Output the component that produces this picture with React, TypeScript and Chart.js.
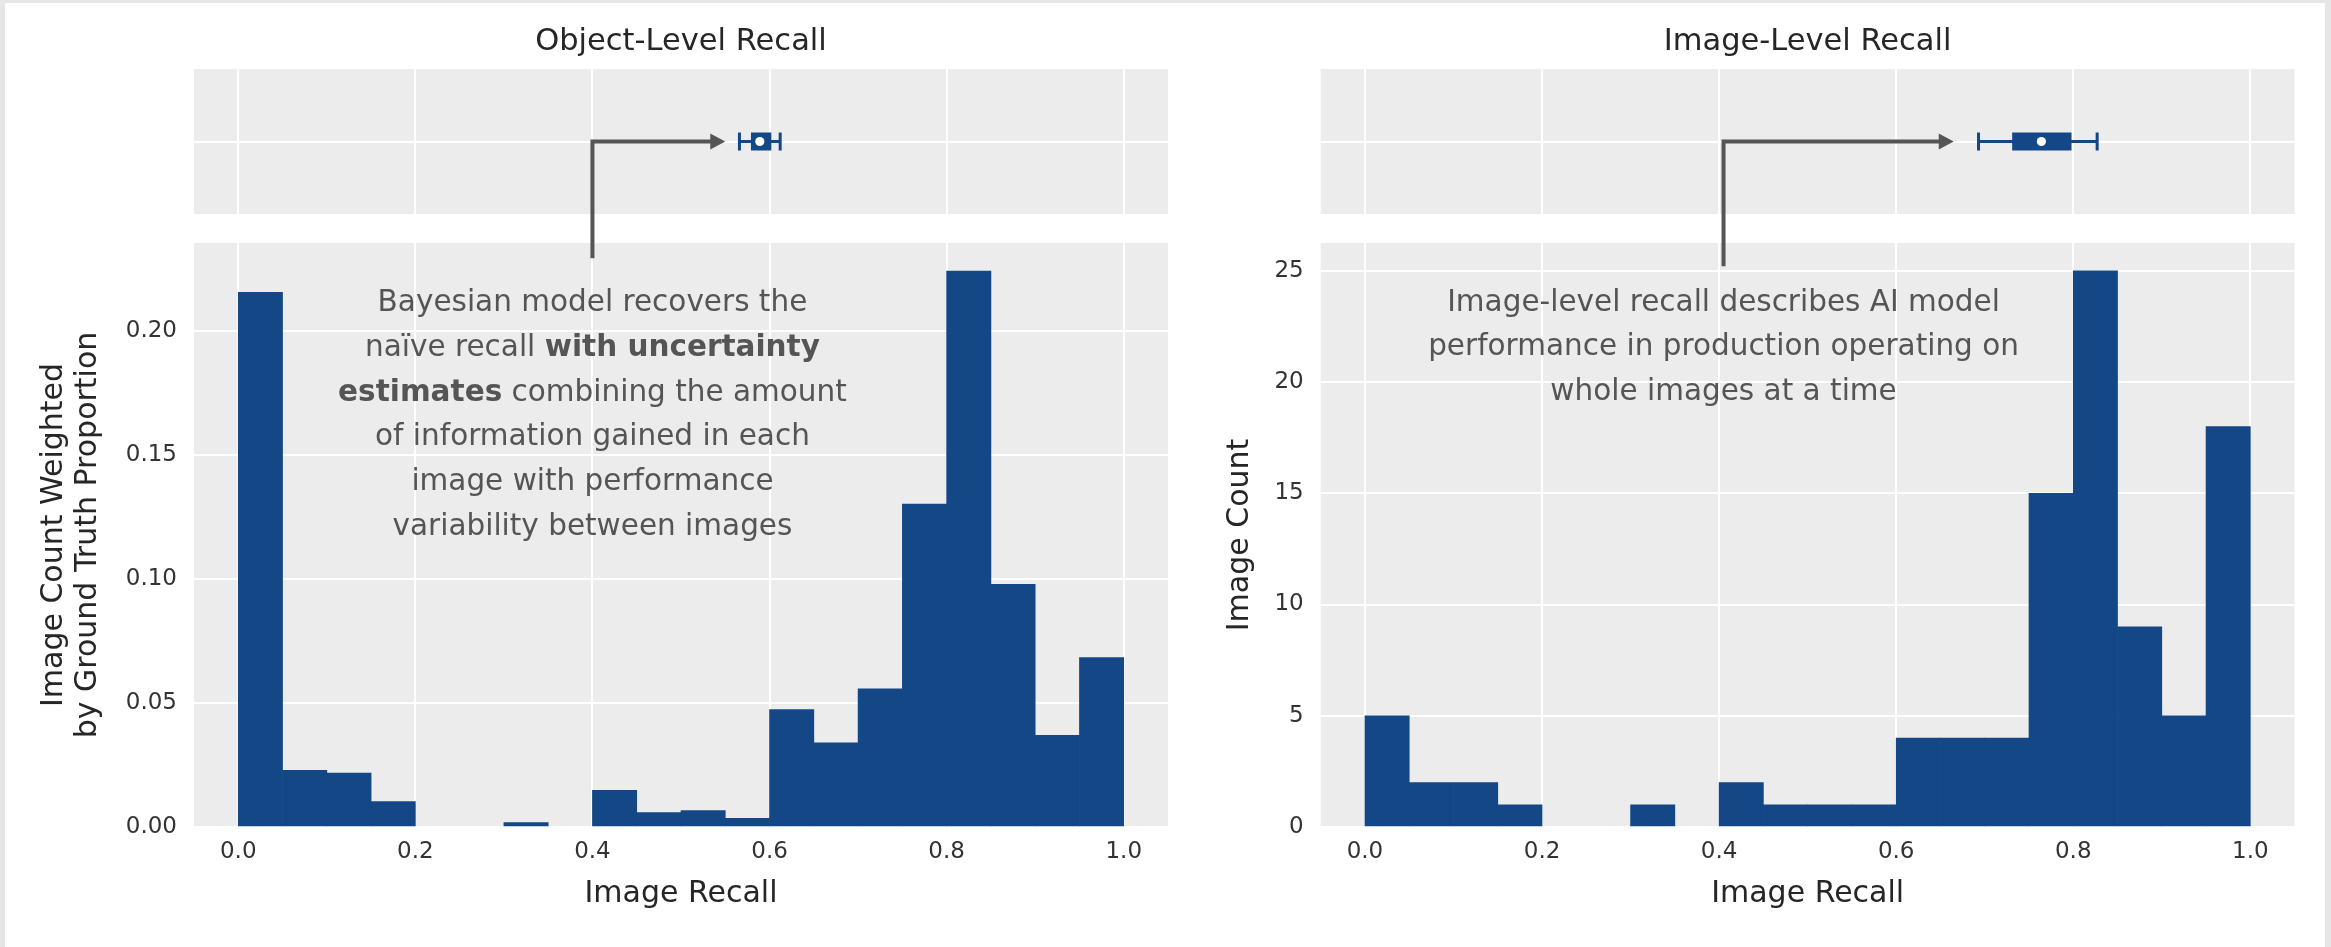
import React, { useEffect, useRef } from "react";
import { Chart, registerables } from "chart.js";

Chart.register(...registerables);

// ---------------- data ----------------
const BIN_EDGES = [0, 0.05, 0.1, 0.15, 0.2, 0.25, 0.3, 0.35, 0.4, 0.45, 0.5, 0.55, 0.6, 0.65, 0.7, 0.75, 0.8, 0.85, 0.9, 0.95, 1.0];

const OBJECT_WEIGHTED_COUNTS = [
  0.2156, 0.0229, 0.0217, 0.0103, 0, 0, 0.0018, 0, 0.0148, 0.0058,
  0.0066, 0.0035, 0.0474, 0.0339, 0.0557, 0.1302, 0.2242, 0.0979, 0.037, 0.0683,
];
const IMAGE_COUNTS = [5, 2, 2, 1, 0, 0, 1, 0, 2, 1, 1, 1, 4, 4, 4, 15, 25, 9, 5, 18];

// box summaries: [whisker low, q1, median, q3, whisker high]
const OBJECT_BOX = [0.566, 0.579, 0.589, 0.602, 0.612];
const IMAGE_BOX = [0.693, 0.731, 0.764, 0.798, 0.827];

const X_TICKS = [0, 0.2, 0.4, 0.6, 0.8, 1.0];
const X_TICK_LABELS = ["0.0", "0.2", "0.4", "0.6", "0.8", "1.0"];
const Y_TICKS_OBJECT = [0, 0.05, 0.1, 0.15, 0.2];
const Y_TICK_LABELS_OBJECT = ["0.00", "0.05", "0.10", "0.15", "0.20"];
const Y_TICKS_IMAGE = [0, 5, 10, 15, 20, 25];
const Y_TICK_LABELS_IMAGE = ["0", "5", "10", "15", "20", "25"];

const OBJECT_TEXT = [
  [["Bayesian model recovers the", false]],
  [["naïve recall ", false], ["with uncertainty", true]],
  [["estimates", true], [" combining the amount", false]],
  [["of information gained in each", false]],
  [["image with performance", false]],
  [["variability between images", false]],
];
const IMAGE_TEXT = [
  [["Image-level recall describes AI model", false]],
  [["performance in production operating on", false]],
  [["whole images at a time", false]],
];

// ---------------- styles ----------------
const BAR_COLOR = "#144786";
const PANEL_BG = "#ececec";
const GRID_COLOR = "#ffffff";
const TICK_COLOR = "#333333";
const LABEL_COLOR = "#262626";
const ANNOT_COLOR = "#555555";
const FONT_FAMILY = "'DejaVu Sans'";

Chart.defaults.font.family = FONT_FAMILY;

const binCenters = BIN_EDGES.slice(0, -1).map((e, i) => (e + BIN_EDGES[i + 1]) / 2);

function makeAnnotationPlugin(a: any) {
  return {
    id: "annot",
    beforeDraw(chart: any) {
      const { ctx, chartArea: ca, scales } = chart;
      ctx.save();
      ctx.fillStyle = PANEL_BG;
      for (const id of ["yBox", "y"]) {
        const s = scales[id];
        ctx.fillRect(ca.left, s.top, ca.right - ca.left, s.bottom - s.top);
      }
      ctx.restore();
    },
    beforeDatasetsDraw(chart: any) {
      const { ctx, chartArea: ca, scales } = chart;
      const g = scales.yGap;
      ctx.save();
      ctx.fillStyle = "#ffffff";
      ctx.fillRect(ca.left - 2, g.top, ca.right - ca.left + 4, g.bottom - g.top);
      ctx.restore();
    },
    afterDatasetsDraw(chart: any) {
      const { ctx, scales } = chart;
      const x = scales.x, y = scales.y, yb = scales.yBox;
      const px = x.getPixelForValue(a.x);
      const pyTop = yb.getPixelForValue(0);
      const pyBottom = y.getPixelForValue(a.lineBottom);
      const tip = x.getPixelForValue(a.tip);
      const headLen = 15, headHalf = 8;
      ctx.save();
      ctx.strokeStyle = ANNOT_COLOR;
      ctx.fillStyle = ANNOT_COLOR;
      ctx.lineWidth = 4;
      ctx.lineJoin = "miter";
      ctx.lineCap = "butt";
      ctx.beginPath();
      ctx.moveTo(px, pyBottom);
      ctx.lineTo(px, pyTop);
      ctx.lineTo(tip - headLen + 1, pyTop);
      ctx.stroke();
      ctx.beginPath();
      ctx.moveTo(tip, pyTop);
      ctx.lineTo(tip - headLen, pyTop - headHalf);
      ctx.lineTo(tip - headLen, pyTop + headHalf);
      ctx.closePath();
      ctx.fill();

      const normal = `normal 29.5px ${FONT_FAMILY}`;
      const bold = `bold 29.5px ${FONT_FAMILY}`;
      const y0 = y.getPixelForValue(a.textY);
      ctx.textBaseline = "middle";
      ctx.textAlign = "left";
      a.lines.forEach((runs: any[], i: number) => {
        const widths = runs.map((r) => {
          ctx.font = r[1] ? bold : normal;
          return ctx.measureText(r[0]).width;
        });
        const total = widths.reduce((s: number, w: number) => s + w, 0);
        let cx = px - total / 2;
        const cy = y0 + i * 44.8;
        runs.forEach((r, j) => {
          ctx.font = r[1] ? bold : normal;
          ctx.fillText(r[0], cx, cy);
          cx += widths[j];
        });
      });
      ctx.restore();
    },
  };
}

function makeConfig(p: any) {
  const fixW = (s: any) => {
    s.width = p.axisWidth;
  };
  return {
    type: "bar",
    data: {
      datasets: [
        {
          type: "line",
          label: "median",
          data: [{ x: p.box[2], y: 0 }],
          xAxisID: "x",
          yAxisID: "yBox",
          showLine: false,
          pointRadius: 4.6,
          pointBackgroundColor: "#ffffff",
          pointBorderWidth: 0,
          order: 0,
        },
        {
          type: "line",
          label: "iqr",
          data: [{ x: p.box[1], y: 0 }, { x: p.box[3], y: 0 }],
          xAxisID: "x",
          yAxisID: "yBox",
          borderColor: BAR_COLOR,
          borderWidth: 18,
          borderCapStyle: "butt",
          pointRadius: 0,
          order: 1,
        },
        {
          type: "line",
          label: "whiskers",
          data: [{ x: p.box[0], y: 0 }, { x: p.box[4], y: 0 }],
          xAxisID: "x",
          yAxisID: "yBox",
          borderColor: BAR_COLOR,
          borderWidth: 3,
          pointStyle: "line",
          pointRadius: 9,
          pointRotation: 90,
          pointBorderWidth: 3,
          pointBorderColor: BAR_COLOR,
          pointBackgroundColor: BAR_COLOR,
          order: 2,
        },
        {
          type: "bar",
          label: "hist",
          data: binCenters.map((c, i) => ({ x: c, y: p.values[i] })),
          xAxisID: "x",
          yAxisID: "y",
          backgroundColor: (ctx: any) => (ctx.raw && ctx.raw.y === 0 ? "rgba(0,0,0,0)" : BAR_COLOR),
          borderWidth: 0,
          barPercentage: 1,
          categoryPercentage: 1,
          order: 3,
        },
      ],
    },
    options: {
      animation: false,
      responsive: false,
      events: [],
      devicePixelRatio: 1,
      layout: { padding: { top: 0, left: 0, bottom: 0, right: p.padRight } },
      plugins: {
        legend: { display: false },
        tooltip: { enabled: false },
        title: {
          display: true,
          text: p.title,
          fullSize: false,
          color: LABEL_COLOR,
          font: { size: 30.5, weight: "normal", family: FONT_FAMILY },
          padding: { top: 24.1, bottom: 8.3 },
        },
      },
      scales: {
        x: {
          type: "linear",
          position: "bottom",
          min: -0.05,
          max: 1.05,
          offset: false,
          afterBuildTicks: (s: any) => {
            s.ticks = X_TICKS.map((v) => ({ value: v }));
          },
          ticks: {
            callback: (_v: any, i: number) => X_TICK_LABELS[i],
            color: TICK_COLOR,
            font: { size: 23 },
            padding: 11.2,
            maxRotation: 0,
            autoSkip: false,
          },
          grid: { color: GRID_COLOR, lineWidth: 2, drawTicks: false, offset: false },
          border: { display: false },
          title: {
            display: true,
            text: "Image Recall",
            color: LABEL_COLOR,
            font: { size: 30, lineHeight: 34 / 30 },
            padding: { top: 0, bottom: 35.4 },
          },
          afterFit: (s: any) => {
            s.height = 120;
          },
        },
        yBox: {
          type: "linear",
          position: "left",
          stack: "v",
          stackWeight: 145,
          weight: 3,
          min: -1,
          max: 1,
          afterBuildTicks: (s: any) => {
            s.ticks = [{ value: 0 }];
          },
          ticks: { display: false },
          grid: { color: GRID_COLOR, lineWidth: 2, drawTicks: false },
          border: { display: false },
          afterFit: fixW,
        },
        yGap: {
          type: "linear",
          position: "left",
          stack: "v",
          stackWeight: 29,
          weight: 2,
          min: 0,
          max: 1,
          ticks: { display: false },
          grid: { display: false },
          border: { display: false },
          afterFit: fixW,
        },
        y: {
          type: "linear",
          position: "left",
          stack: "v",
          stackWeight: 584,
          weight: 1,
          min: 0,
          max: p.yMax,
          afterBuildTicks: (s: any) => {
            s.ticks = p.yTicks.map((v: number) => ({ value: v }));
          },
          ticks: {
            callback: (_v: any, i: number) => p.yTickLabels[i],
            color: TICK_COLOR,
            font: { size: 23 },
            padding: 17,
            autoSkip: false,
          },
          grid: { color: GRID_COLOR, lineWidth: 2, drawTicks: false },
          border: { display: false },
          title: {
            display: true,
            text: p.yTitle,
            color: LABEL_COLOR,
            font: { size: 30, lineHeight: 34 / 30 },
            padding: { top: p.yTitlePad, bottom: 0 },
          },
          afterFit: fixW,
        },
      },
    },
    plugins: [makeAnnotationPlugin(p.annot)],
  };
}

const LEFT_PANEL = {
  title: "Object-Level Recall",
  values: OBJECT_WEIGHTED_COUNTS,
  box: OBJECT_BOX,
  yMax: 0.2355,
  yTicks: Y_TICKS_OBJECT,
  yTickLabels: Y_TICK_LABELS_OBJECT,
  yTitle: ["Image Count Weighted", "by Ground Truth Proportion"],
  yTitlePad: 37.6,
  axisWidth: 194,
  padRight: 10.5,
  annot: { x: 0.4, tip: 0.55, lineBottom: 0.2293, textY: 0.2112, lines: OBJECT_TEXT },
};

const RIGHT_PANEL = {
  title: "Image-Level Recall",
  values: IMAGE_COUNTS,
  box: IMAGE_BOX,
  yMax: 26.25,
  yTicks: Y_TICKS_IMAGE,
  yTickLabels: Y_TICK_LABELS_IMAGE,
  yTitle: "Image Count",
  yTitlePad: 43.7,
  axisWidth: 140.7,
  padRight: 36.4,
  annot: { x: 0.405, tip: 0.665, lineBottom: 25.2, textY: 23.56, lines: IMAGE_TEXT },
};

export default function App() {
  const leftRef = useRef<HTMLCanvasElement>(null);
  const rightRef = useRef<HTMLCanvasElement>(null);

  useEffect(() => {
    const c1 = new Chart(leftRef.current as any, makeConfig(LEFT_PANEL) as any);
    const c2 = new Chart(rightRef.current as any, makeConfig(RIGHT_PANEL) as any);
    return () => {
      c1.destroy();
      c2.destroy();
    };
  }, []);

  return (
    <div style={{ position: "absolute", left: 0, top: 0, width: 2331, height: 947, background: "#e6e6e6", overflow: "hidden" }}>
      <div style={{ position: "absolute", left: 5, top: 3, right: 6, bottom: 0, background: "#ffffff" }} />
      <canvas ref={leftRef} width={1180} height={947} style={{ position: "absolute", left: 0, top: 0, width: 1180, height: 947 }} />
      <canvas ref={rightRef} width={1151} height={947} style={{ position: "absolute", left: 1180, top: 0, width: 1151, height: 947 }} />
    </div>
  );
}
